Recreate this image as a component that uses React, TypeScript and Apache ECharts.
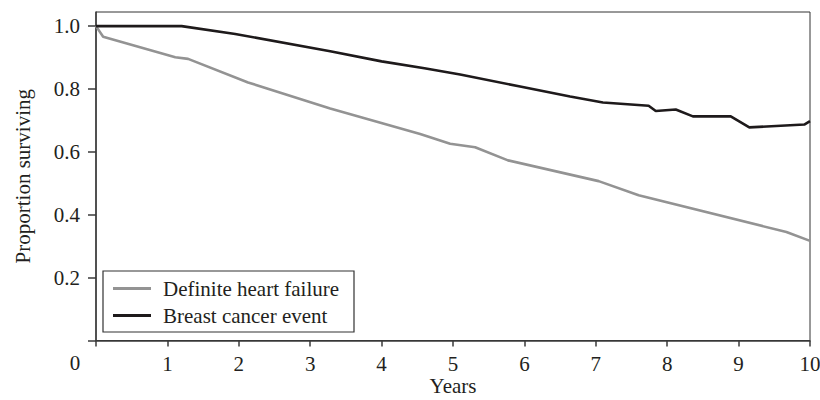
import React, { useEffect, useRef } from "react";
import * as echarts from "echarts";

const heartFailureYears = [0, 0.1, 1.11, 1.29, 2.13, 3.28, 4.54, 4.96, 5.31, 5.77, 7.04, 7.6, 9.67, 10];
const heartFailureValues = [1.0, 0.966, 0.901, 0.896, 0.821, 0.738, 0.657, 0.626, 0.615, 0.573, 0.507, 0.462, 0.345, 0.317];

const cancerYears = [0, 1.2, 1.95, 3.28, 4.0, 4.6, 5.1, 5.94, 6.64, 7.1, 7.74, 7.84, 8.12, 8.36, 8.89, 9.15, 9.92, 10];
const cancerValues = [1.0, 1.0, 0.975, 0.92, 0.888, 0.866, 0.846, 0.808, 0.776, 0.757, 0.747, 0.73, 0.735, 0.713, 0.713, 0.678, 0.687, 0.698];

const xTicks = [0, 1, 2, 3, 4, 5, 6, 7, 8, 9, 10];
const yTicks = [0, 0.2, 0.4, 0.6, 0.8, 1.0];
const yLabels = [0.2, 0.4, 0.6, 0.8, 1.0];

const seriesNames = ["Definite heart failure", "Breast cancer event"];

const FONT = "Liberation Serif";
const FS = 21;
const TEXT = "#231f20";
const AXIS = "#3a3a3a";

export default function App() {
  const ref = useRef<HTMLDivElement>(null);
  useEffect(() => {
    if (!ref.current) return;
    const chart = echarts.init(ref.current, null, { renderer: "svg" });
    const pair = (xs: number[], ys: number[]) => xs.map((x, i) => [x, ys[i]]);
    chart.setOption({
      animation: false,
      textStyle: { fontFamily: FONT, color: TEXT },
      grid: {
        left: 96,
        right: 10,
        top: 12,
        bottom: 59.5,
        show: true,
        borderColor: "#333",
        borderWidth: 1,
        containLabel: false,
        outerBoundsMode: "none",
      },
      legend: {
        left: 113,
        top: 278,
        orient: "vertical",
        icon: "rect",
        itemWidth: 38,
        itemHeight: 3,
        itemGap: 6,
        padding: 0,
        z: 100,
        data: seriesNames,
        textStyle: { fontFamily: FONT, fontSize: FS, color: TEXT, padding: [0, 0, 0, 7], lineHeight: 21 },
      },
      graphic: [
        {
          type: "rect",
          shape: { x: 103, y: 271, width: 251, height: 61 },
          style: { fill: "#fff", stroke: "#333", lineWidth: 1.2 },
          z: 1,
        },
        {
          type: "text",
          x: 75,
          y: 363,
          style: {
            text: String(xTicks[0]),
            fontFamily: FONT,
            fontSize: FS,
            fill: TEXT,
            align: "center",
            verticalAlign: "middle",
          },
        },
      ],
      xAxis: {
        type: "value",
        min: 0,
        max: 10,
        interval: 1,
        name: "Years",
        nameLocation: "middle",
        nameGap: 37,
        nameMoveOverlap: false,
        nameTextStyle: { fontFamily: FONT, fontSize: FS, color: TEXT, lineHeight: 17 },
        axisLine: { show: true, onZero: false, lineStyle: { color: AXIS, width: 1.5 } },
        axisTick: { show: true, inside: false, length: 6, lineStyle: { color: AXIS, width: 1.5 }, customValues: xTicks },
        axisLabel: {
          fontFamily: FONT,
          fontSize: FS,
          color: TEXT,
          margin: 13,
          customValues: xTicks.slice(1),
        },
        splitLine: { show: false },
      },
      yAxis: {
        type: "value",
        min: 0,
        max: 1.045,
        name: "Proportion surviving",
        nameLocation: "middle",
        nameGap: 63,
        nameTextStyle: { fontFamily: FONT, fontSize: FS, color: TEXT },
        axisLine: { show: true, onZero: false, lineStyle: { color: AXIS, width: 1.5 } },
        axisTick: { show: true, inside: false, length: 8, lineStyle: { color: AXIS, width: 1.5 }, customValues: yTicks },
        axisLabel: {
          fontFamily: FONT,
          fontSize: FS,
          color: TEXT,
          margin: 16,
          customValues: yLabels,
          formatter: (v: number) => v.toFixed(1),
        },
        splitLine: { show: false },
      },
      series: [
        {
          name: seriesNames[0],
          type: "line",
          data: pair(heartFailureYears, heartFailureValues),
          symbol: "none",
          lineStyle: { color: "#939393", width: 2.6 },
          itemStyle: { color: "#939393" },
          z: 2,
        },
        {
          name: seriesNames[1],
          type: "line",
          data: pair(cancerYears, cancerValues),
          symbol: "none",
          lineStyle: { color: "#1e1a1b", width: 2.6 },
          itemStyle: { color: "#1e1a1b" },
          z: 3,
        },
      ],
    });
    return () => chart.dispose();
  }, []);
  return <div ref={ref} style={{ width: 820, height: 400, position: "absolute", left: 0, top: 0 }} />;
}
